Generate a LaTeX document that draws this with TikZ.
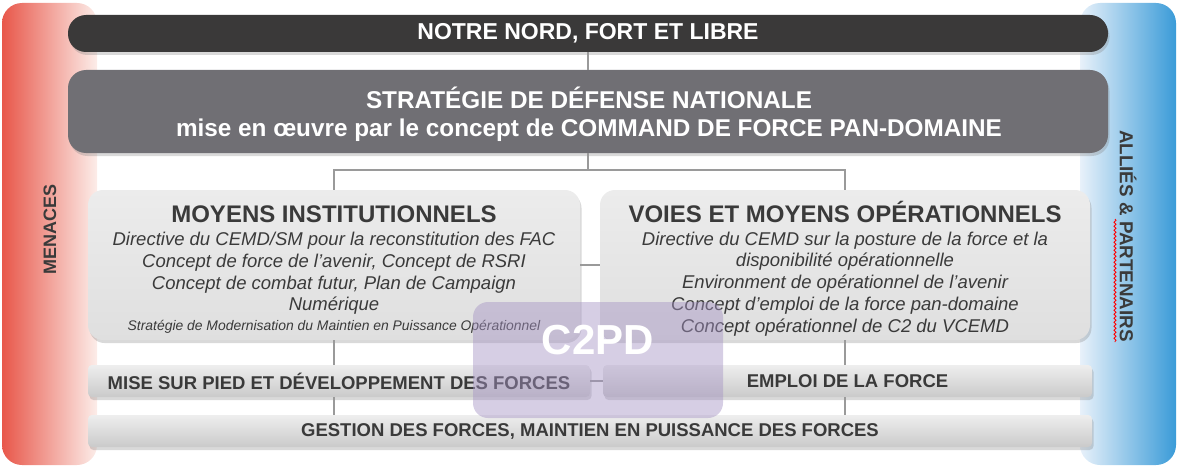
\documentclass[tikz,border=0pt]{standalone}
\usepackage{fontspec}
\setmainfont{Liberation Sans}
\usetikzlibrary{shadows,decorations.pathmorphing}

\definecolor{nordgris}{HTML}{3A3939}
\definecolor{sdngris}{HTML}{706F74}
\definecolor{textegris}{HTML}{3A3A3A}
\definecolor{liengris}{HTML}{9A9A9A}
\definecolor{boitehaut}{HTML}{ECECEC}
\definecolor{boitebas}{HTML}{DFDFDF}
\definecolor{barrehaut}{HTML}{EEEEEE}
\definecolor{barrebas}{HTML}{CACACA}
\definecolor{menrouge}{HTML}{E8574A}
\definecolor{menrose}{HTML}{FCEDE9}
\definecolor{allbleu}{HTML}{3A9BD8}
\definecolor{allclair}{HTML}{E8F1FA}
\definecolor{c2pdmauve}{HTML}{A593C4}

\tikzset{
  ombre/.style={drop shadow={opacity=0.3, shadow xshift=1.5pt, shadow yshift=-3pt}},
  bandeau/.style={rounded corners=18pt, inner sep=0pt, text=white, ombre,
    font=\bfseries\fontsize{23}{28}\selectfont},
  boite/.style={rounded corners=15pt, inner sep=0pt, top color=boitehaut,
    bottom color=boitebas, ombre},
  barre/.style={rounded corners=4pt, inner sep=0pt, top color=barrehaut,
    bottom color=barrebas, text=textegris, ombre, minimum height=32pt,
    font=\bfseries\fontsize{18.5}{22}\selectfont},
  lien/.style={draw=liengris, line width=2.5pt},
  titre/.style={anchor=base, text=textegris, font=\bfseries\fontsize{24}{28}\selectfont},
  ligne/.style={anchor=base, text=textegris, font=\itshape\fontsize{18.5}{22}\selectfont},
  cote/.style={text=textegris, font=\bfseries\fontsize{18}{20}\selectfont},
}

\begin{document}
\begin{tikzpicture}[x=1pt, y=-1pt]
    \useasboundingbox (0,0) rectangle (1180,468);

    % menaces / allies
    \shade[left color=menrouge, right color=menrose, rounded corners=20pt] (2,3) rectangle (97,465);
    \shade[left color=allclair, right color=allbleu, rounded corners=20pt] (1080,3) rectangle (1176,465);
    \node[cote, rotate=90] (menaces) at (50,229) {MENACES};
    \node[cote, rotate=-90, font=\bfseries\fontsize{18.8}{20}\selectfont] (allies) at (1128,236) {ALLIÉS \& PARTENAIRS};
    \draw[red, line width=0.8pt, decorate, decoration={snake, amplitude=1pt, segment length=4pt}]
      (1115,219) -- (1115,342);

    % haut
    \node[bandeau, fill=nordgris, minimum width=1040pt, minimum height=37pt] (nord) at (588,33.5) {NOTRE NORD, FORT ET LIBRE};
    \node[bandeau, fill=sdngris, minimum width=1040pt, minimum height=83pt] (sdn) at (588,111.5) {};
    \node[align=center, text=white, font=\bfseries\fontsize{24.3}{28}\selectfont] (sdn-t) at (589,114)
      {STRATÉGIE DE DÉFENSE NATIONALE\\mise en œuvre par le concept de COMMAND DE FORCE PAN-DOMAINE};

    % boites
    \node[boite, minimum width=492pt, minimum height=150pt] (inst) at (334,265) {};
    \node[boite, minimum width=490pt, minimum height=150pt] (oper) at (845,265) {};

    \node[titre] (inst-t) at (334,222) {MOYENS INSTITUTIONNELS};
    \node[ligne] (inst-1) at (334,245) {Directive du CEMD/SM pour la reconstitution des FAC};
    \node[ligne] (inst-2) at (334,267) {Concept de force de l’avenir, Concept de RSRI};
    \node[ligne] (inst-3) at (334,289) {Concept de combat futur, Plan de Campaign};
    \node[ligne] (inst-4) at (334,310) {Numérique};
    \node[ligne, font=\itshape\fontsize{13.9}{16}\selectfont] (inst-5) at (334,330) {Stratégie de Modernisation du Maintien en Puissance Opérationnel};

    \node[titre] (oper-t) at (845,222) {VOIES ET MOYENS OPÉRATIONNELS};
    \node[ligne] (oper-1) at (845,245) {Directive du CEMD sur la posture de la force et la};
    \node[ligne] (oper-2) at (845,266) {disponibilité opérationnelle};
    \node[ligne] (oper-3) at (845,288) {Environment de opérationnel de l’avenir};
    \node[ligne] (oper-4) at (845,310) {Concept d’emploi de la force pan-domaine};
    \node[ligne] (oper-5) at (845,332) {Concept opérationnel de C2 du VCEMD};

    % barres
    \node[barre, minimum width=502pt] (msp) at (339,381) {MISE SUR PIED ET DÉVELOPPEMENT DES FORCES};
    \node[barre, minimum width=489pt] (emp) at (847.5,381) {EMPLOI DE LA FORCE};
    \node[barre, minimum width=1004pt] (gest) at (590,431) {GESTION DES FORCES, MAINTIEN EN PUISSANCE DES FORCES};

    % liens
    \coordinate (fourche) at (588,170);
    \draw[lien] (nord) -- (sdn);
    \draw[lien] (sdn.south) -- (fourche);
    \draw[lien] (inst.north) |- (fourche) -| (oper.north);
    \draw[lien] (inst.east) -- (oper.west);
    \draw[lien] (inst.south) -- (inst.south |- msp.north);
    \draw[lien] (oper.south) -- (oper.south |- emp.north);
    \draw[lien] (msp.east) -- (emp.west);
    \draw[lien] (inst.south |- msp.south) -- (inst.south |- gest.north);
    \draw[lien] (oper.south |- emp.south) -- (oper.south |- gest.north);

    % c2pd
    \fill[c2pdmauve, opacity=0.45, rounded corners=15pt] (473,302) rectangle (723,418);
    \node[text=white, font=\bfseries\fontsize{42}{46}\selectfont] (c2pd) at (598,340) {C2PD};
  \end{tikzpicture}
\end{document}
